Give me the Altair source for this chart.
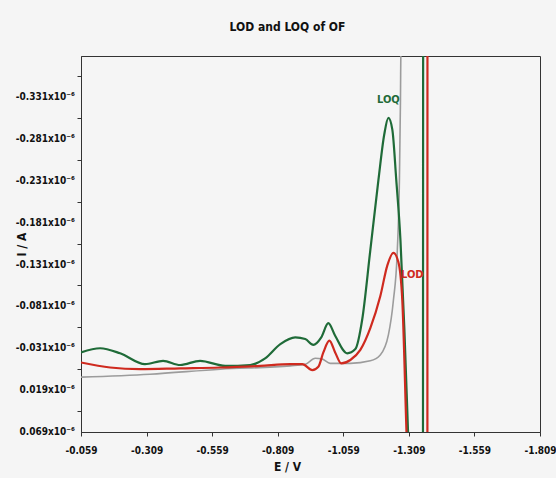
import altair as alt
import pandas as pd

# ---- data ----
series_names = ["Blank", "LOQ", "LOD"]
series_colors = ["#9c9c9c", "#1f6b38", "#cf2a1f"]

blank_E = [-0.059, -0.322, -0.590, -0.857, -0.914, -0.952, -0.979, -1.009, -1.086, -1.162,
           -1.200, -1.231, -1.250, -1.265, -1.273, -1.277, -1.279, -1.809]
blank_I = [0.0035, 0.000, -0.006, -0.010, -0.012, -0.019, -0.018, -0.013, -0.013, -0.016,
           -0.023, -0.047, -0.088, -0.148, -0.232, -0.327, -0.399, -0.600]

loq_E = [-0.059, -0.132, -0.208, -0.303, -0.372, -0.437, -0.513, -0.609, -0.704, -0.761,
         -0.819, -0.876, -0.914, -0.945, -0.975, -1.002, -1.028, -1.074, -1.105, -1.131,
         -1.162, -1.193, -1.215, -1.231, -1.246, -1.261, -1.277, -1.292, -1.307, -1.362,
         -1.364, -1.809]
loq_I = [-0.026, -0.031, -0.025, -0.012, -0.016, -0.011, -0.016, -0.010, -0.011, -0.019,
         -0.036, -0.044, -0.042, -0.035, -0.044, -0.061, -0.046, -0.025, -0.030, -0.065,
         -0.148, -0.232, -0.286, -0.306, -0.292, -0.232, -0.160, -0.053, 0.079, 0.500,
         -0.600, -0.600]

lod_E = [-0.059, -0.170, -0.284, -0.437, -0.590, -0.742, -0.857, -0.903, -0.941, -0.964,
         -0.983, -1.006, -1.028, -1.051, -1.086, -1.124, -1.162, -1.200, -1.227, -1.250,
         -1.269, -1.284, -1.301, -1.3795, -1.380, -1.809]
lod_I = [-0.014, -0.008, -0.006, -0.007, -0.008, -0.010, -0.012, -0.012, -0.005, -0.009,
         -0.026, -0.040, -0.026, -0.013, -0.017, -0.029, -0.055, -0.093, -0.130, -0.145,
         -0.134, -0.088, 0.079, 0.500, -0.600, -0.600]

annot_text = ["LOQ", "LOD"]
annot_E = [-1.231, -1.322]
annot_I = [-0.327, -0.118]

x_major = [-0.059, -0.309, -0.559, -0.809, -1.059, -1.309, -1.559, -1.809]
x_labels = ["-0.059", "-0.309", "-0.559", "-0.809", "-1.059", "-1.309", "-1.559", "-1.809"]
x_minor = [-0.184, -0.434, -0.684, -0.934, -1.184, -1.434, -1.684]

y_major = [-0.331, -0.281, -0.231, -0.181, -0.131, -0.081, -0.031, 0.019, 0.069]
y_labels = ["-0.331x10⁻⁶", "-0.281x10⁻⁶", "-0.231x10⁻⁶", "-0.181x10⁻⁶", "-0.131x10⁻⁶",
            "-0.081x10⁻⁶", "-0.031x10⁻⁶", "0.019x10⁻⁶", "0.069x10⁻⁶"]
y_minor = [-0.356, -0.306, -0.256, -0.206, -0.156, -0.106, -0.056, -0.006, 0.044]

# ---- tables ----
rows = []
for name, Es, Is in [("Blank", blank_E, blank_I), ("LOQ", loq_E, loq_I), ("LOD", lod_E, lod_I)]:
    for i, (e, v) in enumerate(zip(Es, Is)):
        rows.append({"series": name, "E": e, "I": v, "idx": i})
df = pd.DataFrame(rows)
ann = pd.DataFrame({"series": annot_text, "E": annot_E, "I": annot_I, "label": annot_text})

ytick_df = pd.DataFrame({"I": y_major, "label": y_labels})


def label_expr(values, labels):
    expr = "''"
    for v, lab in zip(reversed(values), reversed(labels)):
        expr = f"abs(datum.value - ({v})) < 0.0005 ? '{lab}' : ({expr})"
    return expr


FONT = "Liberation Sans Narrow, DejaVu Sans Condensed, Arial Narrow, sans-serif"

color_scale = alt.Scale(domain=series_names, range=series_colors)
x_scale = alt.Scale(domain=[-1.809, -0.059], reverse=True, nice=False, zero=False)
y_scale = alt.Scale(domain=[-0.38, 0.069], reverse=True, nice=False, zero=False)
x_enc = alt.X(
    "E:Q", scale=x_scale,
    axis=alt.Axis(
        values=sorted(x_major + x_minor), labelExpr=label_expr(x_major, x_labels),
        title="E / V", titleX=206, titleY=34, titleBaseline="middle",
        titleFontSize=12, titleFontWeight="bold", titleFont=FONT, titleColor="#111",
        labelFont=FONT, labelFontSize=10, labelFontWeight="bold", labelColor="#111",
        labelPadding=9, tickSize=4, labelOverlap=False, labelFlush=False, grid=False,
        domainColor="#333", tickColor="#333",
    ),
)
y_enc = alt.Y(
    "I:Q", scale=y_scale,
    axis=alt.Axis(
        values=sorted(y_major + y_minor), labels=False,
        title="I / A", titleX=-60, titleY=188, titleBaseline="middle",
        titleFontSize=12, titleFontWeight="bold", titleFont=FONT, titleColor="#111",
        tickSize=4, grid=False, domainColor="#333", tickColor="#333",
    ),
)

layers = []
for name, w in [("Blank", 1.6), ("LOQ", 2.2), ("LOD", 2.2)]:
    layers.append(
        alt.Chart(df)
        .transform_filter(alt.datum.series == name)
        .mark_line(strokeWidth=w, clip=True, interpolate="monotone")
        .encode(x=x_enc, y=y_enc, order="idx:Q",
                color=alt.Color("series:N", scale=color_scale, legend=None))
    )

text = alt.Chart(ann).mark_text(font=FONT, fontSize=11, fontWeight="bold").encode(
    x=alt.X("E:Q"), y=alt.Y("I:Q"), text="label:N",
    color=alt.Color("series:N", scale=color_scale, legend=None),
)

# y tick labels drawn through the y scale, just left of the axis
ylab = alt.Chart(ytick_df).mark_text(
    font=FONT, fontSize=10, fontWeight="bold", align="right", baseline="middle",
    color="#111", dx=-6,
).encode(x=alt.value(0), y=alt.Y("I:Q"), text="label:N")

chart = (
    alt.layer(*layers, text, ylab)
    .properties(
        width=459, height=376,
        padding={"left": 81, "top": 56, "right": 16, "bottom": 46},
        autosize=alt.AutoSizeParams(type="none"),
        title=alt.TitleParams("LOD and LOQ of OF", fontSize=12, fontWeight="bold", font=FONT,
                              color="#111", offset=22, dx=-23, anchor="middle"),
        background="#f5f5f5",
    )
    .configure_view(stroke="#333", strokeWidth=1)
)

chart.save("out.html", embed_options={"renderer": "svg", "actions": False})
